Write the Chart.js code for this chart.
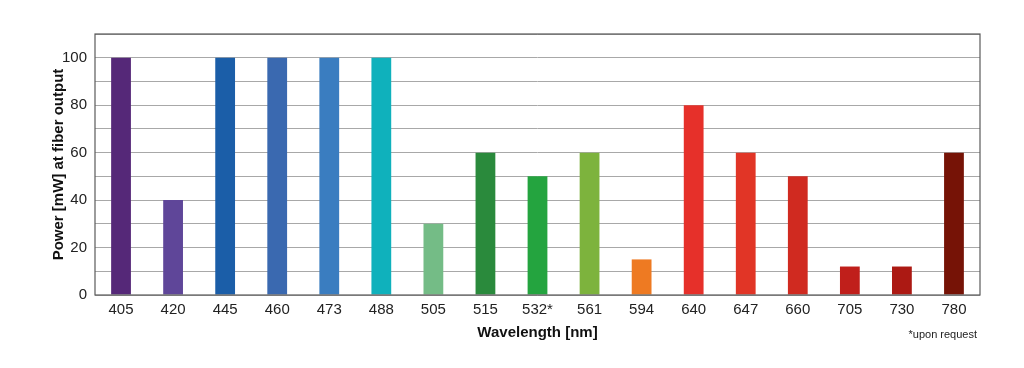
<!DOCTYPE html>
<html><head><meta charset="utf-8">
<script src="https://cdn.jsdelivr.net/npm/chart.js@4/dist/chart.umd.min.js"></script>
<style>html,body{margin:0;padding:0;background:#fff}#wrap{width:1024px;height:368px}</style>
</head><body><div id="wrap"><canvas id="c" width="1024" height="368"></canvas></div>
<script>
const categories = ["405","420","445","460","473","488","505","515","532*","561","594","640","647","660","705","730","780"];
const powerValues = [100,40,100,100,100,100,30,60,50,60,15,80,60,50,12,12,60];
const barColors = ["#552878","#5f4699","#1b5ea8","#3a69b0","#3a7dc0","#0fb1bc","#74bc86","#2a8a3c","#24a43f","#7db33d","#ee7a22","#e6302a","#e13526","#d02a20","#c01f1b","#ac1913","#761306"];
const yTickLabels = ["0","20","40","60","80","100"];
const footnote = "*upon request";

const F = "'Liberation Sans', Arial, Helvetica, sans-serif";
const L = 95, R = 980, T = 34, B = 295, PL = 50, PB = 22;

const frame = {
  id: 'frame',
  afterDraw(chart) {
    const {ctx, chartArea: a} = chart;
    ctx.save();
    ctx.strokeStyle = '#5a5a5a';
    ctx.lineWidth = 1.2;
    ctx.strokeRect(a.left, a.top, a.right - a.left, a.bottom - a.top);
    ctx.fillStyle = '#222';
    ctx.font = "11px " + F;
    ctx.textAlign = 'right';
    ctx.textBaseline = 'middle';
    ctx.fillText(footnote, 977, 335);
    ctx.restore();
  }
};

new Chart(document.getElementById('c'), {
  type: 'bar',
  data: { labels: categories, datasets: [{ data: powerValues, backgroundColor: barColors, barPercentage: 0.76, categoryPercentage: 0.5 }] },
  plugins: [frame],
  options: {
    responsive: false, animation: false,
    layout: { padding: { left: PL, right: 1024 - R, top: T, bottom: PB } },
    plugins: { legend: { display: false }, tooltip: { enabled: false } },
    scales: {
      y: {
        min: 0, max: 110,
        ticks: { stepSize: 10, color: '#222', font: { family: F, size: 15 }, padding: 8,
          callback: (v) => yTickLabels.includes(String(v)) ? String(v) : '' },
        grid: { color: '#a8a8a8', lineWidth: 1, drawTicks: false },
        border: { display: false },
        title: { display: true, text: 'Power [mW] at fiber output', color: '#111', font: { family: F, size: 15, weight: 'bold' }, padding: { top: 0, bottom: 4 } },
        afterFit(s) { s.width = L - PL; }
      },
      x: {
        ticks: { color: '#222', font: { family: F, size: 15 }, padding: 6, maxRotation: 0, autoSkip: false },
        grid: { display: false, drawTicks: false },
        border: { display: false },
        title: { display: true, text: 'Wavelength [nm]', color: '#111', font: { family: F, size: 15, weight: 'bold' }, padding: { top: 6, bottom: 4 } },
        afterFit(s) { s.height = 368 - PB - B; }
      }
    }
  }
});
</script></body></html>
